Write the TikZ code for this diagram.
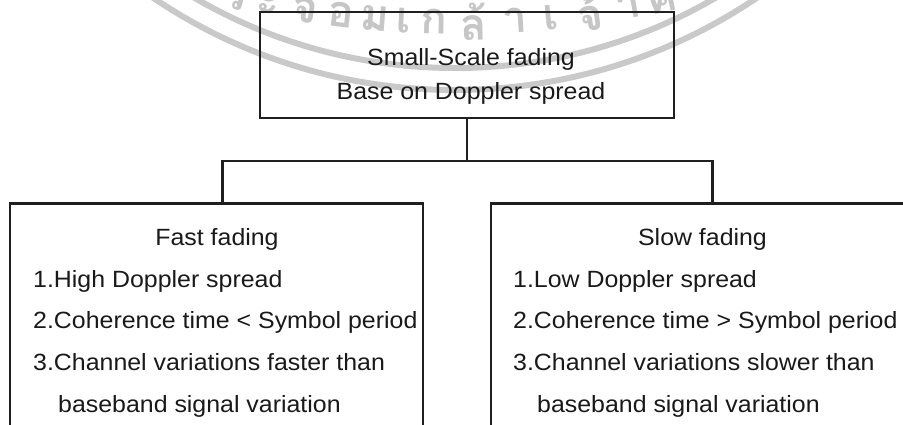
\documentclass[tikz,border=0pt]{standalone}
\usepackage{fontspec}
\setmainfont{Liberation Sans}[FakeStretch=1.06]
\newfontfamily\thaifont[Script=Thai]{Loma}
\begin{document}
\begin{tikzpicture}[x=1pt,y=1pt,
  box/.style={draw=black!88,line width=2.4pt,rectangle,inner sep=0pt},
  conn/.style={draw=black!88,line width=2.4pt},
  txt/.style={inner sep=0pt,text=black!90,font=\fontsize{23.5}{27}\selectfont},
  ring/.style={draw=gray!42,line width=6pt},
  wm/.style={inner sep=0pt,anchor=center,text=gray!45,font=\thaifont\bfseries\fontsize{44}{46}\selectfont}]
\useasboundingbox (0,0) rectangle (903,-424);
\clip (0,0) rectangle (903,-424);

% faint seal in the background: two rings and lettering along an arc
\coordinate (C) at (455,450);
\coordinate (L) at (455,958);
\draw[ring] (C) circle[radius=540];
\draw[ring] (C) circle[radius=518];
\foreach \a/\g [count=\i] in {257.1/ร,259.0/ะ,261.2/จ,263.3/อ,265.3/ม,267.0/เ,268.8/ก,271.1/ล้,273.5/า,275.6/เ,277.9/จ้,280.2/า,282.2/ค}
  \node[wm,rotate=\a+90] (wm\i) at ([shift={(\a:980)}]L) {\g};

% boxes
\node[box,minimum width=414pt,minimum height=106pt] (top) at (467,-65) {};
\node[box,minimum width=413pt,minimum height=240pt] (left) at (216.5,-323.5) {};
\node[box,minimum width=423pt,minimum height=240pt] (right) at (702.5,-323.5) {};

% connectors
\coordinate (j) at (467,-161);
\draw[conn] (top.south) -- (j);
\draw[conn] (j) -| ([xshift=6pt]left.north);
\draw[conn] (j) -| ([xshift=10pt]right.north);

% top box text
\node[txt,anchor=base] (t1) at (471,-65) {Small-Scale fading};
\node[txt,anchor=base] (t2) at (471,-99) {Base on Doppler spread};

% fast fading
\node[txt,anchor=base] (f0) at (217,-245) {Fast fading};
\node[txt,anchor=base west] (f1) at (33,-287) {1.High Doppler spread};
\node[txt,anchor=base west] (f2) at (33,-328) {2.Coherence time < Symbol period};
\node[txt,anchor=base west] (f3) at (33,-370) {3.Channel variations faster than};
\node[txt,anchor=base west] (f4) at (58,-412) {baseband signal variation};

% slow fading
\node[txt,anchor=base] (s0) at (702.5,-245) {Slow fading};
\node[txt,anchor=base west] (s1) at (513,-287) {1.Low Doppler spread};
\node[txt,anchor=base west] (s2) at (513,-328) {2.Coherence time > Symbol period};
\node[txt,anchor=base west] (s3) at (513,-370) {3.Channel variations slower than};
\node[txt,anchor=base west] (s4) at (537,-412) {baseband signal variation};
\end{tikzpicture}
\end{document}
